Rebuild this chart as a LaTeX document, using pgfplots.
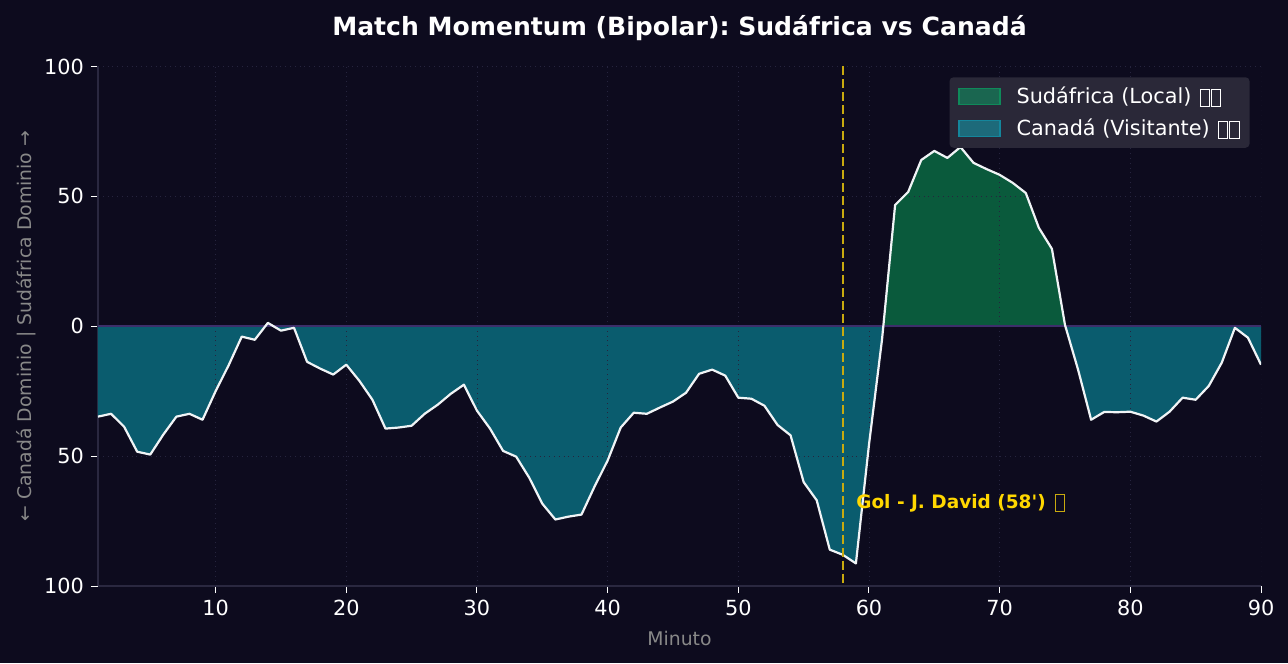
\documentclass[border=0pt]{standalone}
\usepackage{fontspec}
\setmainfont{DejaVu Sans}
\usepackage{pgfplots}
\pgfplotsset{compat=1.18}
\definecolor{bgc}{RGB}{13,11,30}
\definecolor{tealf}{RGB}{10,92,110}
\definecolor{greenf}{RGB}{10,90,60}
\definecolor{zeroc}{RGB}{61,47,107}
\definecolor{spinec}{RGB}{42,40,64}
\definecolor{gridc}{RGB}{38,36,62}
\definecolor{goldc}{RGB}{255,215,0}
\definecolor{goldd}{RGB}{200,170,15}
\definecolor{labelc}{RGB}{136,136,136}
\definecolor{legbg}{RGB}{42,40,56}
\definecolor{linec}{RGB}{240,244,246}
\newcommand\tofu[1][4.2pt]{\raisebox{-1.3pt}{\fboxsep=0pt\fboxrule=.45pt\fbox{\rule{0pt}{8.2pt}\rule{#1}{0pt}}}}
\frenchspacing
\begin{document}
\begin{tikzpicture}
\useasboundingbox (-49pt,-38.5pt) rectangle (595pt,293pt);
\fill[bgc] (-49pt,-38.5pt) rectangle (595pt,293pt);
\begin{axis}[
  scale only axis, width=581.5pt, height=259.75pt,
  xmin=1, xmax=90, ymin=-100, ymax=100,
  axis x line*=bottom, axis y line*=left,
  axis line style={spinec, line width=.7pt},
  xtick={10,20,30,40,50,60,70,80,90},
  xticklabels={10,20,30,40,50,60,70,80,90},
  ytick={-100,-50,0,50,100},
  yticklabels={100,50,0,50,100},
  tick align=outside, major tick length=3.5pt,
  tick style={white, line width=.5pt},
  tick label style={white, font=\fontsize{10.4}{12}\selectfont},
  title={\textbf{Match Momentum (Bipolar): Sudáfrica vs Canadá}},
  title style={at={(0.5,1)}, anchor=center, yshift=13.4pt, white, font=\fontsize{12.55}{15}\selectfont},
  xlabel={Minuto},
  xlabel style={at={(0.5,0)}, anchor=center, yshift=-26pt, labelc, font=\fontsize{9.4}{12}\selectfont},
  ylabel={← Canadá Dominio | Sudáfrica Dominio →},
  ylabel style={at={(0,0.5)}, anchor=center, yshift=36pt, labelc, font=\fontsize{9.4}{12}\selectfont},
  legend style={at={(0.9905,0.98)}, anchor=north east, fill=legbg, draw=none, rounded corners=2pt,
    text=white, font=\fontsize{10.4}{12}\selectfont, inner xsep=3pt, inner ysep=2.75pt, row sep=2.1pt},
  legend cell align=left,
]
\addplot[fill=tealf, draw=none, forget plot] coordinates {
(1,0)(1,-34.8)(2,-33.7)(3,-38.7)(4,-48.3)(5,-49.4)(6,-41.7)(7,-34.8)(8,-33.7)(9,-36)(10,-25)
(11,-15)(12,-4)(13,-5.2)(13.8,0)(14.4,0)(15,-1.7)(16,-0.6)(17,-13.7)(18,-16.3)(19,-18.6)(20,-14.8)
(21,-21)(22,-28.3)(23,-39.4)(24,-39)(25,-38.3)(26,-33.7)(27,-30.2)(28,-26)(29,-22.5)(30,-32.5)
(31,-39.4)(32,-48)(33,-50.2)(34,-58.3)(35,-68.3)(36,-74.4)(37,-73.3)(38,-72.5)(39,-61.7)(40,-51.7)
(41,-39)(42,-33.3)(43,-33.7)(44,-31.3)(45,-29)(46,-25.6)(47,-18.3)(48,-16.7)(49,-19)(50,-27.5)
(51,-27.9)(52,-30.6)(53,-38)(54,-42)(55,-60)(56,-67)(57,-86)(58,-88)(59,-91.3)(60,-45.6)(61,-5)(61.1,0)
} \closedcycle;
\addplot[fill=tealf, draw=none, forget plot] coordinates {
(75.03,0)(76,-16.7)(77,-36)(78,-33)(79,-33.1)(80,-32.9)(81,-34.4)(82,-36.7)(83,-32.9)(84,-27.5)(85,-28.3)
(86,-23)(87,-14)(88,-0.6)(89,-4.4)(90,-14.8)(90,0)
} \closedcycle;
\addplot[fill=greenf, draw=none, forget plot] coordinates {
(61.1,0)(62,46.7)(63,51.7)(64,64)(65,67.5)(66,64.8)(67,69)(68,62.9)(69,60.5)(70,58.3)(71,55.2)(72,51.3)(73,37.9)(74,29.8)(75,0.5)(75.03,0)
} \closedcycle;
\pgfplotsinvokeforeach{10,20,30,40,50,60,70,80,90}{\draw[gridc, dotted, line width=.4pt] (axis cs:#1,-100)--(axis cs:#1,100);}
\pgfplotsinvokeforeach{-50,50,100}{\draw[gridc, dotted, line width=.4pt] (axis cs:1,#1)--(axis cs:90,#1);}
\addplot[zeroc, line width=1.1pt, forget plot] coordinates {(1,0)(90,0)};
\addplot[linec, line width=1.1pt, line join=round, forget plot] coordinates {
(1,-34.8)(2,-33.7)(3,-38.7)(4,-48.3)(5,-49.4)(6,-41.7)(7,-34.8)(8,-33.7)(9,-36)(10,-25)
(11,-15)(12,-4)(13,-5.2)(14,1.3)(15,-1.7)(16,-0.6)(17,-13.7)(18,-16.3)(19,-18.6)(20,-14.8)
(21,-21)(22,-28.3)(23,-39.4)(24,-39)(25,-38.3)(26,-33.7)(27,-30.2)(28,-26)(29,-22.5)(30,-32.5)
(31,-39.4)(32,-48)(33,-50.2)(34,-58.3)(35,-68.3)(36,-74.4)(37,-73.3)(38,-72.5)(39,-61.7)(40,-51.7)
(41,-39)(42,-33.3)(43,-33.7)(44,-31.3)(45,-29)(46,-25.6)(47,-18.3)(48,-16.7)(49,-19)(50,-27.5)
(51,-27.9)(52,-30.6)(53,-38)(54,-42)(55,-60)(56,-67)(57,-86)(58,-88)(59,-91.3)(60,-45.6)
(61,-5)(62,46.7)(63,51.7)(64,64)(65,67.5)(66,64.8)(67,69)(68,62.9)(69,60.5)(70,58.3)
(71,55.2)(72,51.3)(73,37.9)(74,29.8)(75,0.5)(76,-16.7)(77,-36)(78,-33)(79,-33.1)(80,-32.9)
(81,-34.4)(82,-36.7)(83,-32.9)(84,-27.5)(85,-28.3)(86,-23)(87,-14)(88,-0.6)(89,-4.4)(90,-14.8)
};
\addplot[goldd, line width=1.3pt, dash pattern=on 4.5pt off 2pt, forget plot] coordinates {(58,100)(58,-100)};
\node[anchor=west, text=goldc, font=\fontsize{9.25}{12}\selectfont\bfseries, inner sep=0pt] at (axis cs:59,-68) {Gol - J. David (58\textquotesingle) \textcolor{goldd}{\kern1.5pt\tofu[4.2pt]}};
\addlegendimage{legend image code/.code={\path (0pt,0pt); \draw[sharp corners, draw={rgb,255:red,15;green,138;blue,90}, fill={rgb,255:red,26;green,102;blue,80}, line width=.6pt] (1.5pt,-4.1pt) rectangle (22pt,4.1pt);}}
\addlegendentry{\hspace*{6pt}Sudáfrica (Local) \kern.9pt\tofu\kern.5pt\tofu}
\addlegendimage{legend image code/.code={\path (0pt,0pt); \draw[sharp corners, draw={rgb,255:red,20;green,134;blue,156}, fill={rgb,255:red,29;green,106;blue,122}, line width=.6pt] (1.5pt,-4.1pt) rectangle (22pt,4.1pt);}}
\addlegendentry{\hspace*{6pt}Canadá (Visitante) \kern.9pt\tofu\kern.5pt\tofu}
\end{axis}
\end{tikzpicture}
\end{document}
